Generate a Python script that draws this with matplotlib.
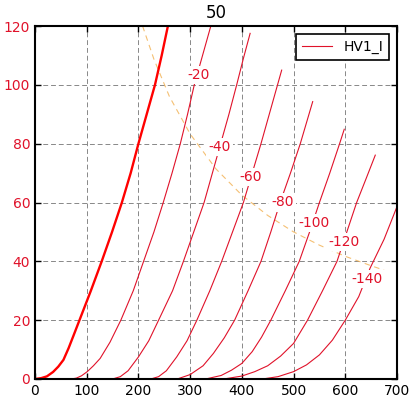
"""Triode plate curves with 25 W dissipation line (title: 50)."""

import matplotlib
matplotlib.use("Agg")
import matplotlib.pyplot as plt

# plate voltage / plate current (mA) per grid bias
grid_bias = [0, -20, -40, -60, -80, -100, -120, -140]

va_0 = [0, 12, 23, 35, 45, 55, 65, 75, 86, 97, 108, 129, 149, 168, 185, 200, 216, 232, 245, 257]
ia_0 = [0, 0.3, 0.9, 2.4, 4.2, 6.5, 10.5, 15, 20, 25, 30, 40, 50, 60, 70, 80, 90, 100, 110, 120]

va_20 = [0, 70, 80, 90, 101, 113, 126, 145, 166, 190, 210, 230, 248, 265, 281, 295, 308, 324, 340]
ia_20 = [0, 0, 0.3, 1.1, 2.5, 4.5, 7, 12.5, 20, 30, 40, 50, 60, 70, 80, 90, 100, 110, 120]

va_40 = [0, 150, 165, 180, 200, 220, 239, 266, 287, 307, 327, 343, 359, 375, 390, 403, 416]
ia_40 = [0, 0, 0.8, 2.8, 7.5, 13, 20, 30, 40, 50, 60, 70, 80, 90, 100, 109, 117.5]

va_60 = [0, 224, 239, 254, 274, 294, 313, 338, 361, 382, 403, 420, 437, 457, 477]
ia_60 = [0, 0, 0.8, 2.8, 7.5, 13, 20, 30, 40, 50, 60, 70, 80, 92.5, 105]

va_80 = [0, 275, 300, 325, 345, 366, 386, 412, 437, 456, 474, 494, 513, 537]
ia_80 = [0, 0, 1.5, 4.5, 8.7, 14, 20, 30, 40, 50, 60, 70, 80, 94.3]

va_100 = [0, 330, 360, 380, 400, 420, 438, 456, 484, 511, 531, 550, 570, 589, 598]
ia_100 = [0, 0, 1.2, 3, 5.3, 9.3, 14.2, 20, 30, 40, 50, 60, 70, 80, 84.9]

va_120 = [0, 365, 400, 425, 450, 475, 500, 527, 556, 584, 603, 622, 640, 658]
ia_120 = [0, 0, 1.0, 2.5, 4.5, 7.8, 12.1, 20, 30, 40, 50, 60, 68, 76.1]

va_140 = [0, 440, 470, 500, 525, 550, 575, 600, 626, 648, 675, 700]
ia_140 = [0, 0, 0.8, 2.5, 4.8, 8.2, 13.2, 20, 28, 37.7, 47.5, 58.6]

curves_va = [va_0, va_20, va_40, va_60, va_80, va_100, va_120, va_140]
curves_ia = [ia_0, ia_20, ia_40, ia_60, ia_80, ia_100, ia_120, ia_140]

# where the bias labels sit on each curve (skip 0 V)
label_va = [316, 357, 416, 479, 539, 598, 642]
label_ia = [103.3, 78.8, 68.8, 60, 52.9, 46.5, 33.9]

# dissipation limit line
pd_va = [208, 230, 260, 300, 350, 400, 450, 500, 550, 600, 650, 675]
pd_ia = [120, 108.7, 96, 83.3, 71.4, 62.5, 55.6, 50, 45.5, 41.7, 38.5, 37]

x_ticks = [0, 100, 200, 300, 400, 500, 600, 700]
y_ticks = [0, 20, 40, 60, 80, 100, 120]

RED = "#e0122a"


def main() -> None:
    fig = plt.figure(figsize=(4.14, 3.98), dpi=100)
    ax = fig.add_axes([35 / 414, 19 / 398, 362 / 414, 353 / 398])

    ax.grid(True, color="#888888", linestyle=(0, (5, 3)), linewidth=0.7)
    ax.set_axisbelow(True)

    ax.plot(pd_va, pd_ia, color="#f2b050", linestyle=(0, (5, 4)), linewidth=0.8, alpha=0.8)

    for i, (va, ia) in enumerate(zip(curves_va, curves_ia)):
        if i == 0:
            ax.plot(va, ia, color="red", linewidth=1.7)
        elif i == 1:
            ax.plot(va, ia, color=RED, linewidth=0.8, label="HV1_I")
        else:
            ax.plot(va, ia, color=RED, linewidth=0.8)

    for bias, x, y in zip(grid_bias[1:], label_va, label_ia):
        ax.text(x, y, str(bias), color=RED, fontsize=10, ha="center", va="center",
                bbox=dict(facecolor="white", edgecolor="none", pad=1.5), zorder=3)

    ax.set_xlim(0, 700)
    ax.set_ylim(0, 120)
    ax.set_xticks(x_ticks)
    ax.set_yticks(y_ticks)
    ax.tick_params(direction="in", length=4, width=1, top=True, right=True, labelsize=10)
    ax.tick_params(axis="y", labelcolor=RED)
    for spine in ax.spines.values():
        spine.set_linewidth(1.5)

    ax.set_title("50", fontsize=12)
    leg = ax.legend(loc="upper right", fontsize=10, fancybox=False, framealpha=1,
                    handlelength=2.2, borderaxespad=0.6)
    leg.get_frame().set_edgecolor("black")
    leg.get_frame().set_linewidth(1.2)

    fig.savefig("out.png", dpi=100)


if __name__ == "__main__":
    main()
